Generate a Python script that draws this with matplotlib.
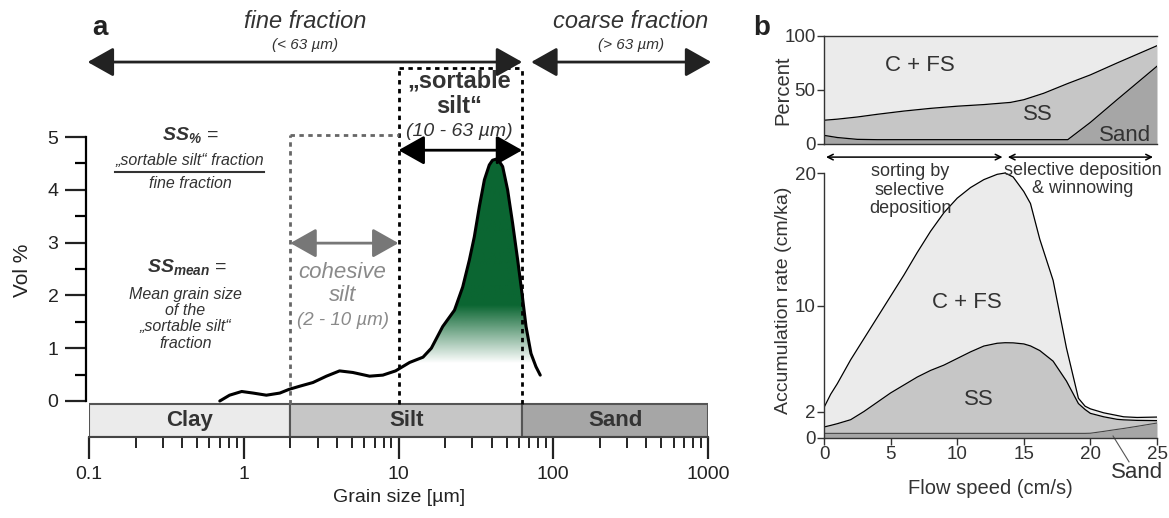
import numpy as np
import matplotlib
matplotlib.use("Agg")
import matplotlib.pyplot as plt
from matplotlib.patches import Polygon
from matplotlib.colors import to_rgb
from matplotlib.ticker import LogLocator, NullFormatter

plt.rcParams['font.family'] = ['Liberation Sans', 'DejaVu Sans']
plt.rcParams['mathtext.fontset'] = 'custom'
plt.rcParams['mathtext.it'] = 'Liberation Sans:italic:bold'
plt.rcParams['mathtext.rm'] = 'Liberation Sans:italic:bold'
plt.rcParams['mathtext.bf'] = 'Liberation Sans:italic:bold'
NARROW = ['Liberation Sans Narrow', 'Liberation Sans', 'DejaVu Sans']

TXT = '#333333'
LIGHT = '#ebebeb'
MID = '#c6c6c6'
DARK = '#a6a6a6'
GREEN = '#0b6632'

# ---- panel a: grain size distribution ----
grain_um = [0.70, 0.81, 0.97, 1.15, 1.40, 1.71, 1.96, 2.30, 2.80, 3.42, 4.16,
            5.07, 6.50, 7.92, 9.57, 11.8, 14.4, 16.3, 19.3, 23.0, 26.0, 28.7,
            30.9, 33.3, 35.9, 38.6, 40.5, 42.7, 45.0, 47.1, 50.7, 54.6, 58.9,
            62.8, 66.7, 71.8, 77.3, 82.4]
vol_pct = [0.0, 0.11, 0.18, 0.15, 0.11, 0.15, 0.22, 0.28, 0.35, 0.47, 0.57,
           0.54, 0.47, 0.49, 0.57, 0.73, 0.83, 1.0, 1.41, 1.72, 2.16, 2.67,
           3.11, 3.68, 4.19, 4.47, 4.56, 4.58, 4.53, 4.44, 4.0, 3.37, 2.67,
           2.04, 1.41, 0.90, 0.65, 0.49]

class_names = ['Clay', 'Silt', 'Sand']
class_edges = [0.1, 2, 63, 1000]
class_colors = [LIGHT, MID, DARK]

x_tick_vals = [0.1, 1, 10, 100, 1000]
x_tick_labels = ['0.1', '1', '10', '100', '1000']

# ---- panel b: composition (percent) vs flow speed ----
flow_pct = [0, 1, 2.5, 4, 6, 8, 10, 12, 14, 15, 16.5, 18.3, 20, 22, 25]
ss_cum_pct = [22, 23, 25, 27.5, 30.5, 33, 35, 36.5, 38.5, 41, 47, 56, 64, 75, 91]
sand_pct = [8, 6, 4.3, 4, 4, 4, 4, 4, 4, 4, 4, 4, 20, 41, 72]

# ---- panel b: accumulation rate vs flow speed ----
flow_acc = [0, 0.5, 1, 2, 3, 4, 5, 6, 7, 8, 9, 10, 11, 12, 13, 13.6, 14.2, 15,
            15.5, 16.2, 17.2, 18.2, 19.1, 19.6, 20, 21, 22, 22.5, 23.5, 25]
total_acc = [2.3, 3.3, 4.1, 5.9, 7.5, 9.1, 10.7, 12.3, 14.0, 15.6, 17.0, 18.1,
             18.9, 19.5, 19.9, 20.0, 19.7, 18.6, 17.7, 15.0, 11.9, 6.8, 3.0,
             2.4, 2.2, 1.9, 1.7, 1.6, 1.55, 1.58]
ss_cum_acc = [0.83, 0.95, 1.08, 1.38, 2.0, 2.7, 3.4, 4.0, 4.6, 5.1, 5.5, 6.0,
              6.5, 6.94, 7.15, 7.19, 7.18, 7.1, 6.95, 6.6, 5.8, 4.3, 2.6,
              2.15, 1.86, 1.6, 1.41, 1.37, 1.33, 1.31]
sand_acc = [0.35, 0.35, 0.35, 0.35, 0.35, 0.35, 0.35, 0.35, 0.35, 0.35, 0.35,
            0.35, 0.35, 0.35, 0.35, 0.35, 0.35, 0.35, 0.35, 0.35, 0.35, 0.35,
            0.35, 0.35, 0.36, 0.5, 0.65, 0.72, 0.88, 1.13]

W, H = 1169, 518
fig = plt.figure(figsize=(W / 100, H / 100), dpi=100)


def px_axes(x0, y0, x1, y1):
    # box given in pixels, y measured from the top
    return fig.add_axes([x0 / W, (H - y1) / H, (x1 - x0) / W, (y1 - y0) / H])


# ================= panel a =================
ax = px_axes(89, 0, 708, 437)
ax.set_xscale('log')
ymin, ymax = -0.682, 7.595

# class bar
lefts = class_edges[:-1]
widths = np.diff(class_edges)
ax.bar(lefts, [0.625] * 3, width=widths, bottom=ymin, align='edge',
       color=class_colors, edgecolor='#555555', linewidth=1.5, zorder=2)
for name, lo, hi in zip(class_names, class_edges[:-1], class_edges[1:]):
    ax.text(np.sqrt(lo * hi), -0.37, name, ha='center', va='center',
            fontsize=16, fontweight='bold', family=NARROW, color=TXT, zorder=3)

# green gradient under the sortable silt peak
gx = np.array(grain_um)
gy = np.array(vol_pct)
levels = np.linspace(0, 5, 256)
rgba = np.zeros((256, 1, 4))
rgba[..., :3] = to_rgb(GREEN)
rgba[..., 3] = np.clip((levels - 0.7) / 1.1, 0, 1)[:, None]
im = ax.imshow(rgba, extent=[9.5, 90, 0, 5], origin='lower', aspect='auto',
               interpolation='bilinear', zorder=3)
sel = gx >= 9.5
verts = list(zip(gx[sel], gy[sel])) + [(gx[sel][-1], 0), (gx[sel][0], 0)]
poly = Polygon(verts, closed=True, transform=ax.transData,
               facecolor='none', edgecolor='none')
ax.add_patch(poly)
im.set_clip_path(poly)

ax.plot(gx, gy, color='black', lw=2.2, zorder=4, solid_capstyle='round',
        solid_joinstyle='round')

# dashed boxes
dash = (0, (1.6, 1.6))
ax.plot([10, 10], [-0.06, 6.31], color='black', lw=2, ls=dash, zorder=3)
ax.plot([63, 63], [-0.06, 6.31], color='black', lw=2, ls=dash, zorder=3)
ax.plot([10, 63], [6.31, 6.31], color='black', lw=2, ls=dash, zorder=3)
ax.plot([2, 2], [-0.06, 5.04], color='#666666', lw=2, ls=dash, zorder=3)
ax.plot([2, 10], [5.04, 5.04], color='#666666', lw=2, ls=dash, zorder=3)

# arrows
head = '<|-|>,head_length=0.8,head_width=0.45'
ax.annotate('', xy=(63, 6.42), xytext=(0.098, 6.42), annotation_clip=False,
            arrowprops=dict(arrowstyle=head, mutation_scale=20, lw=2,
                            color='#222222', shrinkA=0, shrinkB=0))
ax.annotate('', xy=(1050, 6.42), xytext=(72, 6.42), annotation_clip=False,
            arrowprops=dict(arrowstyle=head, mutation_scale=20, lw=2,
                            color='#222222', shrinkA=0, shrinkB=0))
ax.annotate('', xy=(63, 4.75), xytext=(10, 4.75), annotation_clip=False,
            arrowprops=dict(arrowstyle=head, mutation_scale=20, lw=2,
                            color='black', shrinkA=0, shrinkB=0))
ax.annotate('', xy=(10, 2.99), xytext=(2, 2.99), annotation_clip=False,
            arrowprops=dict(arrowstyle=head, mutation_scale=20, lw=2,
                            color='#777777', shrinkA=0, shrinkB=0))

# texts
ax.text(2.48, 7.18, 'fine fraction', ha='center', va='center', style='italic',
        fontsize=17, family=NARROW, color=TXT)
ax.text(2.48, 6.74, '(< 63 µm)', ha='center', va='center', style='italic',
        fontsize=11, family=NARROW, color=TXT)
ax.text(318, 7.18, 'coarse fraction', ha='center', va='center', style='italic',
        fontsize=17, family=NARROW, color=TXT)
ax.text(318, 6.74, '(> 63 µm)', ha='center', va='center', style='italic',
        fontsize=11, family=NARROW, color=TXT)

ax.text(24.8, 6.06, '„sortable', ha='center', va='center', fontsize=17,
        fontweight='bold', family=NARROW, color=TXT)
ax.text(24.8, 5.57, 'silt“', ha='center', va='center', fontsize=17,
        fontweight='bold', family=NARROW, color=TXT)
ax.text(24.8, 5.1, '(10 - 63 µm)', ha='center', va='center', style='italic',
        fontsize=14, family=NARROW, color=TXT)

ax.text(4.35, 2.44, 'cohesive', ha='center', va='center', style='italic',
        fontsize=16, family=NARROW, color='#8a8a8a')
ax.text(4.35, 1.99, 'silt', ha='center', va='center', style='italic',
        fontsize=16, family=NARROW, color='#8a8a8a')
ax.text(4.35, 1.53, '(2 - 10 µm)', ha='center', va='center', style='italic',
        fontsize=13.5, family=NARROW, color='#8a8a8a')

ax.text(0.449, 5.04, r'$SS_{\%}$ =', ha='center', va='center', fontsize=14,
        color=TXT)
ax.text(0.449, 4.55, '„sortable silt“ fraction', ha='center', va='center',
        style='italic', fontsize=11.5, family=NARROW, color=TXT)
ax.plot([0.147, 1.35], [4.34, 4.34], color=TXT, lw=1.5)
ax.text(0.449, 4.11, 'fine fraction', ha='center', va='center',
        style='italic', fontsize=11.5, family=NARROW, color=TXT)
ax.text(0.43, 2.54, r'$SS_{mean}$ =', ha='center', va='center', fontsize=14,
        color=TXT)
ax.text(0.42, 1.555, 'Mean grain size\nof the\n„sortable silt“\nfraction',
        ha='center', va='center', style='italic', fontsize=11.5,
        linespacing=1.1, family=NARROW, color=TXT)

ax.set_xlim(0.1, 1000)
ax.set_ylim(ymin, ymax)
for s in ['top', 'right']:
    ax.spines[s].set_visible(False)
ax.spines['left'].set_bounds(0, 5)
ax.spines['left'].set_position(('outward', 2))
ax.spines['left'].set_linewidth(1.6)
ax.spines['bottom'].set_linewidth(1.5)
ax.spines['bottom'].set_color('#444444')
ax.set_yticks([0, 1, 2, 3, 4, 5])
ax.set_yticks(np.arange(0.5, 5, 1), minor=True)
ax.tick_params(axis='y', which='major', length=15, width=1.6, labelsize=14,
               pad=5, colors='#222222')
ax.tick_params(axis='y', which='minor', length=8, width=1.6)
ax.set_xticks(x_tick_vals, x_tick_labels)
ax.xaxis.set_minor_locator(LogLocator(base=10, subs=np.arange(2, 10)))
ax.xaxis.set_minor_formatter(NullFormatter())
ax.tick_params(axis='x', which='major', length=16, width=1.6, labelsize=14,
               pad=5, colors='#222222')
ax.tick_params(axis='x', which='minor', length=8, width=1.2)

fig.text(22 / W, 1 - 270 / H, 'Vol %', rotation=90, ha='center', va='center',
         fontsize=15, color='#222222')
fig.text(399 / W, 1 - 497 / H, 'Grain size [µm]', ha='center', va='center',
         fontsize=14, color='#222222')
fig.text(100 / W, 1 - 28 / H, 'a', ha='center', va='center', fontsize=20,
         fontweight='bold', color='#222222')

# ================= panel b: percent =================
axu = px_axes(824, 36, 1157, 144)
axu.fill_between(flow_pct, ss_cum_pct, 100, color=LIGHT, lw=0)
axu.fill_between(flow_pct, sand_pct, ss_cum_pct, color=MID, lw=0)
axu.fill_between(flow_pct, 0, sand_pct, color=DARK, lw=0)
axu.plot(flow_pct, ss_cum_pct, color='black', lw=0.9)
axu.plot(flow_pct, sand_pct, color='black', lw=0.9)
axu.set_xlim(0, 25)
axu.set_ylim(0, 100)
axu.spines['right'].set_visible(False)
for s in ['top', 'left', 'bottom']:
    axu.spines[s].set_linewidth(1.0)
    axu.spines[s].set_color('#333333')
axu.set_xticks([])
axu.set_yticks([0, 50, 100])
axu.tick_params(axis='y', length=5, width=1, labelsize=13.5, pad=1,
                colors='#333333')
axu.text(7.2, 73, 'C + FS', ha='center', va='center', fontsize=16, color=TXT)
axu.text(16.07, 26.9, 'SS', ha='center', va='center', fontsize=16, color=TXT)
axu.text(22.6, 8.3, 'Sand', ha='center', va='center', fontsize=16, color=TXT)

# ================= panel b: accumulation =================
axl = px_axes(824, 150, 1157, 438)
axl.fill_between(flow_acc, ss_cum_acc, total_acc, color=LIGHT, lw=0)
axl.fill_between(flow_acc, sand_acc, ss_cum_acc, color=MID, lw=0)
axl.fill_between(flow_acc, 0, sand_acc, color=DARK, lw=0)
axl.plot(flow_acc, total_acc, color='black', lw=0.9)
axl.plot(flow_acc, ss_cum_acc, color='black', lw=0.9)
axl.plot(flow_acc, sand_acc, color='#444444', lw=0.8)
axl.set_xlim(0, 25)
axl.set_ylim(0, (438 - 150) / 13.25)
for s in ['top', 'right']:
    axl.spines[s].set_visible(False)
axl.spines['left'].set_bounds(0, 20)
for s in ['left', 'bottom']:
    axl.spines[s].set_linewidth(1.0)
    axl.spines[s].set_color('#333333')
axl.set_xticks([0, 5, 10, 15, 20, 25])
axl.set_yticks([0, 2, 10, 20])
axl.tick_params(length=5, width=1, labelsize=13.5, pad=1, colors='#333333')

small = dict(arrowstyle='<->', mutation_scale=10, lw=1.1, color='black',
             shrinkA=0, shrinkB=0)
axl.annotate('', xy=(13.4, 21.2), xytext=(0.15, 21.2), arrowprops=small,
             annotation_clip=False)
axl.annotate('', xy=(24.7, 21.2), xytext=(13.8, 21.2), arrowprops=small,
             annotation_clip=False)
axl.text(6.46, 18.7, 'sorting by\nselective\ndeposition', ha='center',
         va='center', fontsize=13, linespacing=1.1, color=TXT)
axl.text(19.4, 19.5, 'selective deposition\n& winnowing', ha='center',
         va='center', fontsize=13, linespacing=1.1, color=TXT)
axl.text(10.7, 10.26, 'C + FS', ha='center', va='center', fontsize=16,
         color=TXT)
axl.text(11.6, 2.94, 'SS', ha='center', va='center', fontsize=16, color=TXT)
axl.text(23.5, -2.64, 'Sand', ha='center', va='center', fontsize=16,
         color=TXT, clip_on=False)
axl.plot([21.7, 22.9], [0.15, -1.8], color='#555555', lw=0.8, clip_on=False)

fig.text(783 / W, 1 - 90 / H, 'Percent', rotation=90, ha='center',
         va='center', fontsize=14.5, color=TXT)
fig.text(783 / W, 1 - 300 / H, 'Accumulation rate (cm/ka)', rotation=90,
         ha='center', va='center', fontsize=14, color=TXT)
fig.text(990 / W, 1 - 488 / H, 'Flow speed (cm/s)', ha='center', va='center',
         fontsize=14.5, color=TXT)
fig.text(762 / W, 1 - 28 / H, 'b', ha='center', va='center', fontsize=20,
         fontweight='bold', color='#222222')

fig.savefig('out.png', dpi=100)
